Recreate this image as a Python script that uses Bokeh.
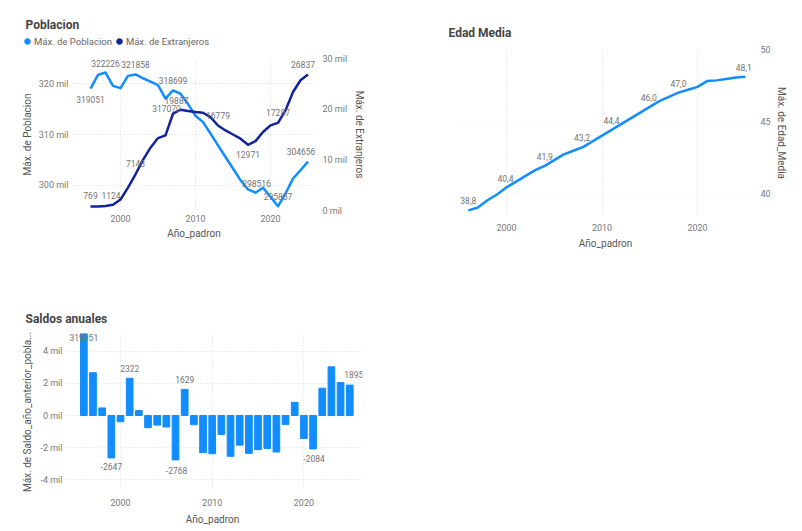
from bokeh.plotting import figure
from bokeh.models import (Range1d, LinearAxis, FixedTicker, CustomJSTickFormatter,
                          Legend, LegendItem, Label, ColumnDataSource, Spacer)
from bokeh.layouts import row, column
from bokeh.embed import file_html
from bokeh.resources import INLINE
from bokeh.core.properties import value

# ---------------- data ----------------
years = list(range(1996, 2026))
poblacion = [319051, 321760, 322226, 319600, 319150, 321570, 321858, 321100, 320450, 319740,
             317070, 318699, 318040, 316000, 313700, 312450, 310200, 307850, 305560, 303280,
             300990, 299150, 298516, 299480, 297700, 295857, 298350, 301300, 302940, 304656]
extranjeros = [769, 800, 900, 1124, 2170, 4500, 7148, 10000, 12400, 14290,
               14820, 19100, 19887, 19630, 19430, 19300, 18440, 16779, 15800, 15000,
               14170, 12971, 13700, 15500, 16800, 17287, 19760, 23380, 25700, 26837]
edad_media = [38.8, 39.0, 39.5, 39.9, 40.4, 40.8, 41.2, 41.6, 41.9, 42.3,
              42.7, 42.95, 43.2, 43.6, 44.0, 44.4, 44.8, 45.2, 45.6, 46.0,
              46.4, 46.7, 47.0, 47.2, 47.4, 47.8, 47.85, 47.95, 48.05, 48.1]
saldos = [319051, 2667, 472, -2647, -390, 2322, 307, -759, -595, -718,
          -2768, 1629, -574, -2319, -2381, -1190, -2544, -1847, -2360, -2134,
          -2052, -2277, -554, 821, -1436, -2084, 1703, 3037, 2052, 1895]

x_ticks = [2000, 2010, 2020]
pob_ticks = [300000, 310000, 320000]
ext_ticks = [0, 10000, 20000, 30000]
edad_ticks = [40, 45, 50]
saldo_ticks = [-4000, -2000, 0, 2000, 4000]

pob_label_years = [1996, 1998, 2002, 2006, 2007, 2018, 2021, 2025]
ext_label_years = [1996, 1999, 2002, 2008, 2013, 2017, 2021, 2025]
edad_label_years = [1996, 2000, 2004, 2008, 2011, 2015, 2018, 2025]
saldo_label_years = [1996, 1999, 2001, 2006, 2007, 2021, 2025]

# ---------------- styles / label placement ----------------
pob_offsets = [(0, 10.5), (0, -9.5), (0, -10), (1, 10), (0, -10), (1, -9), (0, -10), (-7, -10)]
ext_offsets = [(0, -11), (-2, -9), (0, -11), (-4, -9), (0, -10), (0, 10), (0, -10), (-5, -10)]
edad_offsets = [(0, -10), (-1, -9), (0, -9.5), (-1, -10), (0, -9), (-1, -9), (0, -9.5), (-1.5, -9.6)]
saldo_offsets = [(0, 4), (0, 9), (0, -10), (1, 11), (0, -10), (1, 10), (4, -11)]

C_LIGHT = "#118DFF"
C_DARK = "#12239E"
FONT = "Roboto"
TICK_COLOR = "#777777"
TITLE_AX_COLOR = "#555555"
LABEL_COLOR = "#737373"
GRID_COLOR = "#dddddd"
TITLE_COLOR = "#454545"


def mil_formatter():
    return CustomJSTickFormatter(code="return (tick/1000).toFixed(0) + ' mil';")


def style_axis(ax, standoff, title_standoff):
    ax.axis_line_color = None
    ax.major_tick_line_color = None
    ax.minor_tick_line_color = None
    ax.major_tick_out = 0
    ax.major_tick_in = 0
    ax.minor_tick_out = 0
    ax.minor_tick_in = 0
    ax.major_label_text_font = FONT
    ax.major_label_text_font_size = "9px"
    ax.major_label_text_color = TICK_COLOR
    ax.major_label_standoff = standoff
    ax.axis_label_text_font = FONT
    ax.axis_label_text_font_size = "10px"
    ax.axis_label_text_font_style = "normal"
    ax.axis_label_text_color = TITLE_AX_COLOR
    ax.axis_label_standoff = title_standoff


def base_fig(w, h, xr, yr, ml, mr, mt, mb, **kw):
    p = figure(width=w, height=h, x_range=xr, y_range=yr, output_backend="svg",
               toolbar_location=None, min_border_left=ml, min_border_right=mr,
               min_border_top=mt, min_border_bottom=mb, title=None, **kw)
    p.outline_line_color = None
    p.background_fill_color = "white"
    p.border_fill_color = "white"
    p.grid.grid_line_color = GRID_COLOR
    p.grid.grid_line_dash = "1 2"
    p.grid.grid_line_width = 1
    return p


def blank_fig(w, h):
    f = figure(width=w, height=h, x_range=Range1d(0, w), y_range=Range1d(0, h),
               output_backend="svg", toolbar_location=None, min_border=0,
               min_border_left=0, min_border_right=0, min_border_top=0, min_border_bottom=0,
               x_axis_type=None, y_axis_type=None, title=None)
    f.outline_line_color = None
    f.background_fill_color = "white"
    f.border_fill_color = "white"
    return f


def add_labels(p, xs, ys, texts, offsets, y_range_name="default"):
    src = ColumnDataSource(dict(x=xs, y=ys, t=texts,
                                xo=[o[0] for o in offsets], yo=[o[1] for o in offsets]))
    p.text(x="x", y="y", text="t", x_offset="xo", y_offset="yo", source=src,
           text_align="center", text_baseline="middle", text_font=value(FONT),
           text_font_size="8.5px", text_color=LABEL_COLOR, y_range_name=y_range_name)


def title_label(f, text, x, y, baseline="middle", size="12px"):
    f.add_layout(Label(x=x, y=y, text=text, text_font=FONT, text_font_size=size,
                       text_font_style="bold", text_color=TITLE_COLOR,
                       text_baseline=baseline, text_align="left"))

# ---------------- chart 1: Poblacion ----------------
h1 = blank_fig(400, 31)
title_label(h1, "Poblacion", 25, 26, baseline="alphabetic")
leg1 = h1.scatter(x=years, y=poblacion, marker="circle", color=C_LIGHT)
leg2 = h1.scatter(x=years, y=extranjeros, marker="circle", color=C_DARK)
legend = Legend(items=[LegendItem(label="Máx. de Poblacion", renderers=[leg1]),
                       LegendItem(label="Máx. de Extranjeros", renderers=[leg2])],
                location=(20, 2), orientation="horizontal",
                glyph_width=14, glyph_height=14, label_standoff=0, spacing=-4,
                padding=0, margin=0, border_line_color=None, background_fill_alpha=0,
                label_text_font=FONT, label_text_font_size="9.5px",
                label_text_color="#666666", label_height=14, label_width=10)
h1.add_layout(legend, "center")

p1 = base_fig(400, 215, Range1d(1993.6, 2026.0), Range1d(295000, 325000),
              72, 85, 8, 55, y_axis_location="left")
p1.extra_y_ranges = {"ext": Range1d(0, 30000)}
p1.xaxis.ticker = FixedTicker(ticks=x_ticks)
p1.yaxis.ticker = FixedTicker(ticks=pob_ticks)
p1.yaxis.formatter = mil_formatter()
p1.xaxis.axis_label = "Año_padron"
p1.yaxis.axis_label = "Máx. de Poblacion"
style_axis(p1.xaxis[0], 4, 3)
style_axis(p1.yaxis[0], 4, 3)
ax_r = LinearAxis(y_range_name="ext", ticker=FixedTicker(ticks=ext_ticks),
                  formatter=mil_formatter(), axis_label="Máx. de Extranjeros")
style_axis(ax_r, 7, 4)
p1.add_layout(ax_r, "right")

p1.line(years, poblacion, line_color=C_LIGHT, line_width=2.5, line_join="round")
p1.line(years, extranjeros, line_color=C_DARK, line_width=2.5, line_join="round",
        y_range_name="ext")
add_labels(p1, pob_label_years,
           [poblacion[years.index(y)] for y in pob_label_years],
           [str(poblacion[years.index(y)]) for y in pob_label_years], pob_offsets)
add_labels(p1, ext_label_years,
           [extranjeros[years.index(y)] for y in ext_label_years],
           [str(extranjeros[years.index(y)]) for y in ext_label_years], ext_offsets,
           y_range_name="ext")

# ---------------- chart 2: Edad Media ----------------
h2 = blank_fig(400, 41)
title_label(h2, "Edad Media", 48, 9)

p2 = base_fig(400, 224, Range1d(1994.97, 2025.76), Range1d(38.37, 50),
              58, 48, 8, 49, y_axis_location="right")
p2.xaxis.ticker = FixedTicker(ticks=x_ticks)
p2.yaxis.ticker = FixedTicker(ticks=edad_ticks)
p2.xaxis.axis_label = "Año_padron"
p2.yaxis.axis_label = "Máx. de Edad_Media"
style_axis(p2.xaxis[0], 7, 4)
style_axis(p2.yaxis[0], 8, 2)
p2.ygrid.grid_line_color = "#eeeeee"
p2.line(years, edad_media, line_color=C_LIGHT, line_width=2.5, line_join="round")
add_labels(p2, edad_label_years,
           [edad_media[years.index(y)] for y in edad_label_years],
           [("%.1f" % edad_media[years.index(y)]).replace(".", ",") for y in edad_label_years],
           edad_offsets)

# ---------------- chart 3: Saldos anuales ----------------
h3 = blank_fig(400, 64)
title_label(h3, "Saldos anuales", 25, 10.7)

saldo_top = 5113
p3 = base_fig(400, 184, Range1d(1994.0, 2026.39), Range1d(-4676, saldo_top),
              65, 38, 4, 23, y_axis_location="left")
p3.xaxis.ticker = FixedTicker(ticks=x_ticks)
p3.yaxis.ticker = FixedTicker(ticks=saldo_ticks)
p3.yaxis.formatter = mil_formatter()
p3.yaxis.axis_label = "Máx. de Saldo_año_anterior_pobla..."
style_axis(p3.xaxis[0], 8, 3)
style_axis(p3.yaxis[0], 3, 4)
p3.vbar(x=years, top=saldos, width=0.73, color=C_LIGHT)
add_labels(p3, saldo_label_years,
           [min(saldos[years.index(y)], saldo_top) for y in saldo_label_years],
           [str(saldos[years.index(y)]) for y in saldo_label_years], saldo_offsets)

f3 = blank_fig(400, 13)
f3.add_layout(Label(x=212, y=13, text="Año_padron", text_font=FONT, text_font_size="10px",
                    text_color=TITLE_AX_COLOR, text_baseline="top", text_align="center"))

col_a = column(Spacer(width=400, height=19), row(h1), row(p1))
col_b = column(row(h2), row(p2))
col_c = column(row(h3), row(p3), row(f3))
layout = column(row(col_a, col_b), col_c)
open("out.html", "w").write(file_html(layout, INLINE))
